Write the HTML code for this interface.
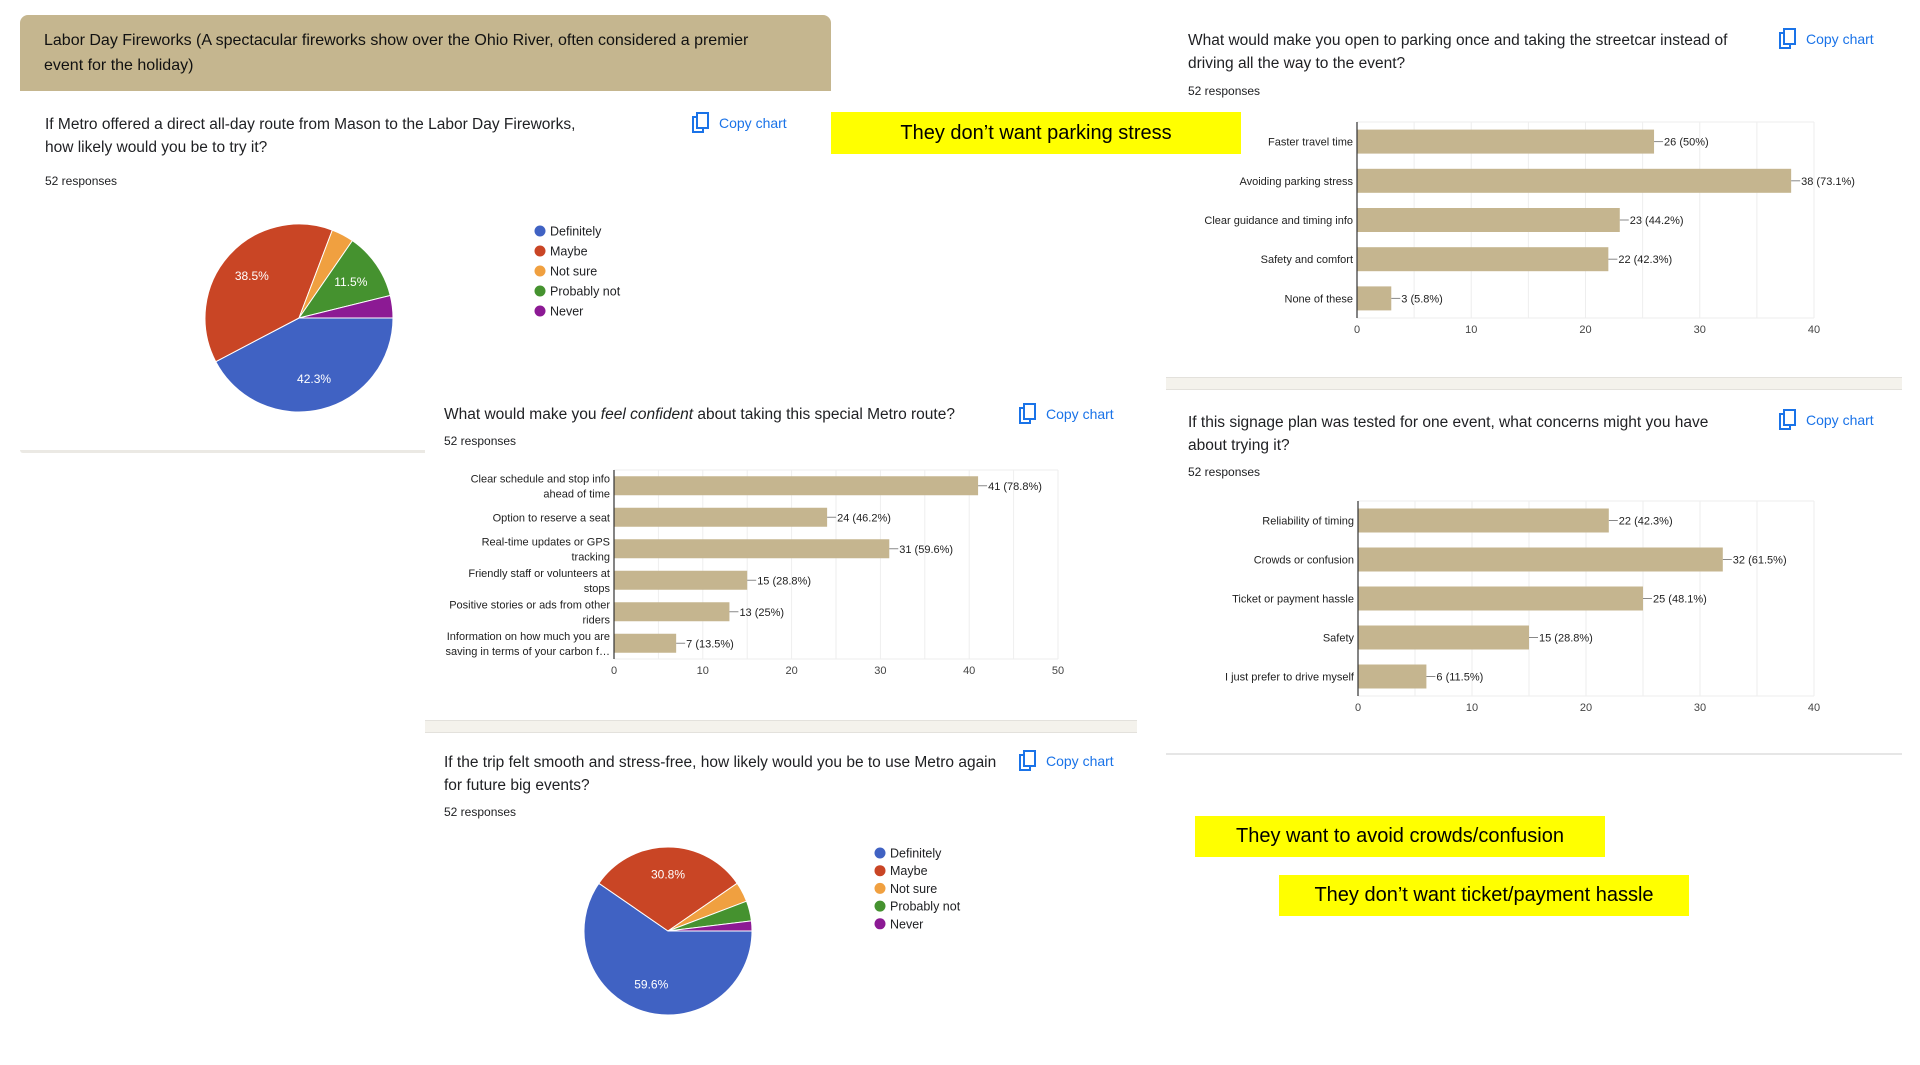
<!DOCTYPE html>
<html><head><meta charset="utf-8">
<style>
html,body{margin:0;padding:0;background:#fff;}
body{width:1920px;height:1065px;position:relative;overflow:hidden;font-family:"Liberation Sans",Arial,sans-serif;color:#202124;}
.abs{position:absolute;}
.title{font-size:15.5px;line-height:23px;color:#202124;}
.resp{font-size:12px;color:#202124;}
.copy{font-size:14px;color:#1a73e8;display:flex;align-items:center;gap:9px;}
.yellow{background:#ffff00;font-size:20px;color:#000;display:flex;align-items:center;justify-content:center;}
.sep{background:#f4f2ec;border-top:1px solid #e3e1dc;border-bottom:1px solid #e3e1dc;}
</style></head>
<body>
<div class="abs" style="left:20px;top:450px;width:405px;height:3px;background:#ebe9e4;border-radius:0 0 0 6px;"></div>
<div class="abs" style="left:20px;top:15px;width:811px;height:76px;background:#c5b68f;border-radius:8px 8px 0 0;"></div>
<div class="abs" style="left:44px;top:28px;width:745px;font-size:16px;line-height:25px;color:#111;">Labor Day Fireworks (A spectacular fireworks show over the Ohio River, often considered a premier event for the holiday)</div>

<div class="abs title" style="left:45px;top:113px;width:558px;">If Metro offered a direct all-day route from Mason to the Labor Day Fireworks, how likely would you be to try it?</div>
<div class="abs resp" style="left:45px;top:174px;">52 responses</div>
<div class="abs copy" style="left:692px;top:112px;"><svg width="18" height="22" viewBox="0 0 18 22"><rect x="1" y="5" width="10" height="15" fill="none" stroke="#1a73e8" stroke-width="2"/><rect x="5" y="1" width="11" height="15" fill="#fff" stroke="#1a73e8" stroke-width="2"/></svg><span>Copy chart</span></div>

<div class="abs yellow" style="left:831px;top:112px;width:410px;height:42px;">They don’t want parking stress</div>

<div class="abs title" style="left:444px;top:403px;width:560px;">What would make you <i>feel confident</i> about taking this special Metro route?</div>
<div class="abs resp" style="left:444px;top:434px;">52 responses</div>
<div class="abs copy" style="left:1019px;top:403px;"><svg width="18" height="22" viewBox="0 0 18 22"><rect x="1" y="5" width="10" height="15" fill="none" stroke="#1a73e8" stroke-width="2"/><rect x="5" y="1" width="11" height="15" fill="#fff" stroke="#1a73e8" stroke-width="2"/></svg><span>Copy chart</span></div>
<div class="abs sep" style="left:425px;top:720px;width:712px;height:11px;"></div>

<div class="abs title" style="left:444px;top:751px;width:570px;">If the trip felt smooth and stress-free, how likely would you be to use Metro again for future big events?</div>
<div class="abs resp" style="left:444px;top:805px;">52 responses</div>
<div class="abs copy" style="left:1019px;top:750px;"><svg width="18" height="22" viewBox="0 0 18 22"><rect x="1" y="5" width="10" height="15" fill="none" stroke="#1a73e8" stroke-width="2"/><rect x="5" y="1" width="11" height="15" fill="#fff" stroke="#1a73e8" stroke-width="2"/></svg><span>Copy chart</span></div>

<div class="abs title" style="left:1188px;top:29px;width:580px;">What would make you open to parking once and taking the streetcar instead of driving all the way to the event?</div>
<div class="abs resp" style="left:1188px;top:84px;">52 responses</div>
<div class="abs copy" style="left:1779px;top:28px;"><svg width="18" height="22" viewBox="0 0 18 22"><rect x="1" y="5" width="10" height="15" fill="none" stroke="#1a73e8" stroke-width="2"/><rect x="5" y="1" width="11" height="15" fill="#fff" stroke="#1a73e8" stroke-width="2"/></svg><span>Copy chart</span></div>
<div class="abs sep" style="left:1166px;top:377px;width:736px;height:11px;"></div>
<div class="abs title" style="left:1188px;top:411px;width:560px;">If this signage plan was tested for one event, what concerns might you have about trying it?</div>
<div class="abs resp" style="left:1188px;top:465px;">52 responses</div>
<div class="abs copy" style="left:1779px;top:409px;"><svg width="18" height="22" viewBox="0 0 18 22"><rect x="1" y="5" width="10" height="15" fill="none" stroke="#1a73e8" stroke-width="2"/><rect x="5" y="1" width="11" height="15" fill="#fff" stroke="#1a73e8" stroke-width="2"/></svg><span>Copy chart</span></div>
<div class="abs" style="left:1166px;top:753px;width:736px;height:2px;background:#e6e6e6;"></div>

<div class="abs yellow" style="left:1195px;top:816px;width:410px;height:41px;">They want to avoid crowds/confusion</div>
<div class="abs yellow" style="left:1279px;top:875px;width:410px;height:41px;">They don’t want ticket/payment hassle</div>

<svg id="charts" class="abs" style="left:0;top:0;" width="1920" height="1065" xmlns="http://www.w3.org/2000/svg"></svg>

<script>
const pieLabels = ["Definitely","Maybe","Not sure","Probably not","Never"];
const pie1Values = [22,20,2,6,2];
const pie2Values = [31,16,2,2,1];
const pieColors = ["#4062c3","#c94525","#f0a040","#45922f","#8c1a94"];

const c2Cats = ["Clear schedule and stop info\nahead of time","Option to reserve a seat","Real-time updates or GPS\ntracking","Friendly staff or volunteers at\nstops","Positive stories or ads from other\nriders","Information on how much you are\nsaving in terms of your carbon f…"];
const c2Vals = [41,24,31,15,13,7];
const c2Pcts = ["78.8%","46.2%","59.6%","28.8%","25%","13.5%"];
const c2Ticks = [0,10,20,30,40,50];

const c4Cats = ["Faster travel time","Avoiding parking stress","Clear guidance and timing info","Safety and comfort","None of these"];
const c4Vals = [26,38,23,22,3];
const c4Pcts = ["50%","73.1%","44.2%","42.3%","5.8%"];
const c4Ticks = [0,10,20,30,40];

const c5Cats = ["Reliability of timing","Crowds or confusion","Ticket or payment hassle","Safety","I just prefer to drive myself"];
const c5Vals = [22,32,25,15,6];
const c5Pcts = ["42.3%","61.5%","48.1%","28.8%","11.5%"];
const c5Ticks = [0,10,20,30,40];

const NS = "http://www.w3.org/2000/svg";
const svg = document.getElementById("charts");
function mk(tag, attrs, parent){
  const e = document.createElementNS(NS, tag);
  for (const k in attrs) e.setAttribute(k, attrs[k]);
  (parent||svg).appendChild(e);
  return e;
}

function pie(prefix, values, cx, cy, r, lx, ly, lstep){
  const total = values.reduce((a,b)=>a+b,0);
  let a = Math.PI/2;
  values.forEach((v,i)=>{
    const sweep = v/total*2*Math.PI;
    const a2 = a + sweep;
    const x1 = cx + r*Math.sin(a), y1 = cy - r*Math.cos(a);
    const x2 = cx + r*Math.sin(a2), y2 = cy - r*Math.cos(a2);
    const p = mk("path",{d:`M${cx},${cy} L${x1},${y1} A${r},${r} 0 ${sweep>Math.PI?1:0} 1 ${x2},${y2} Z`,fill:pieColors[i],stroke:"#fff","stroke-width":1});
    
    
    if (v/total >= 0.08){
      const m = (a+a2)/2;
      const t = mk("text",{x:cx+0.67*r*Math.sin(m), y:cy-0.67*r*Math.cos(m)+4,"text-anchor":"middle",fill:"#fff","font-size":12});
      t.textContent = (v/total*100).toFixed(1)+"%";
      
      
    }
    a = a2;
  });
  pieLabels.forEach((l,i)=>{
    const c = mk("circle",{cx:lx, cy:ly+i*lstep, r:5.5, fill:pieColors[i]});
    
    
    const t = mk("text",{x:lx+10, y:ly+i*lstep+4.5,"font-size":12.5,fill:"#202124"});
    t.textContent = l;
    
    
  });
}

function bars(prefix, cats, vals, pcts, ticks, x0, x1, top, bottom, bh){
  const maxV = ticks[ticks.length-1];
  const xs = v => x0 + (x1-x0)*v/maxV;
  const step = (bottom-top)/cats.length;
  for (let v=0; v<=maxV; v+=5){
    mk("line",{x1:xs(v),x2:xs(v),y1:top,y2:bottom,stroke:"#eeeeee","stroke-width":1});
  }
  mk("line",{x1:x0,x2:x1,y1:top,y2:top,stroke:"#eeeeee"});
  mk("line",{x1:x0,x2:x1,y1:bottom,y2:bottom,stroke:"#eeeeee"});
  ticks.forEach(v=>{
    const t = mk("text",{x:xs(v), y:bottom+15,"text-anchor":"middle","font-size":11,fill:"#444"});
    t.textContent = v;
    
    
  });
  cats.forEach((c,i)=>{
    const cy = top + step*(i+0.5);
    const b = mk("rect",{x:x0, y:cy-bh/2, width:xs(vals[i])-x0, height:bh, fill:"#c5b58f"});
    
    
    const ex = xs(vals[i]);
    mk("line",{x1:ex, x2:ex+9, y1:cy, y2:cy, stroke:"#888","stroke-width":1});
    const vt = mk("text",{x:ex+10, y:cy+4,"font-size":11,fill:"#222"});
    vt.textContent = vals[i]+" ("+pcts[i]+")";
    
    
    const lines = c.split("\n");
    const lt = mk("text",{x:x0-4,"text-anchor":"end","font-size":11,fill:"#222"});
    
    
    lines.forEach((ln,j)=>{
      const ts = mk("tspan",{x:x0-4, y:cy+4+(j-(lines.length-1)/2)*15},lt);
      ts.textContent = ln;
    });
  });
  mk("line",{x1:x0,x2:x0,y1:top,y2:bottom,stroke:"#333","stroke-width":1.2});
}

pie("pie1", pie1Values, 299, 318, 94, 540, 231, 20);
pie("pie2", pie2Values, 668, 931, 84, 880, 853, 17.7);
bars("chart2", c2Cats, c2Vals, c2Pcts, c2Ticks, 614, 1058, 470, 659, 19);
bars("chart4", c4Cats, c4Vals, c4Pcts, c4Ticks, 1357, 1814, 122, 318, 24);
bars("chart5", c5Cats, c5Vals, c5Pcts, c5Ticks, 1358, 1814, 501, 696, 24);
</script>
</body></html>
